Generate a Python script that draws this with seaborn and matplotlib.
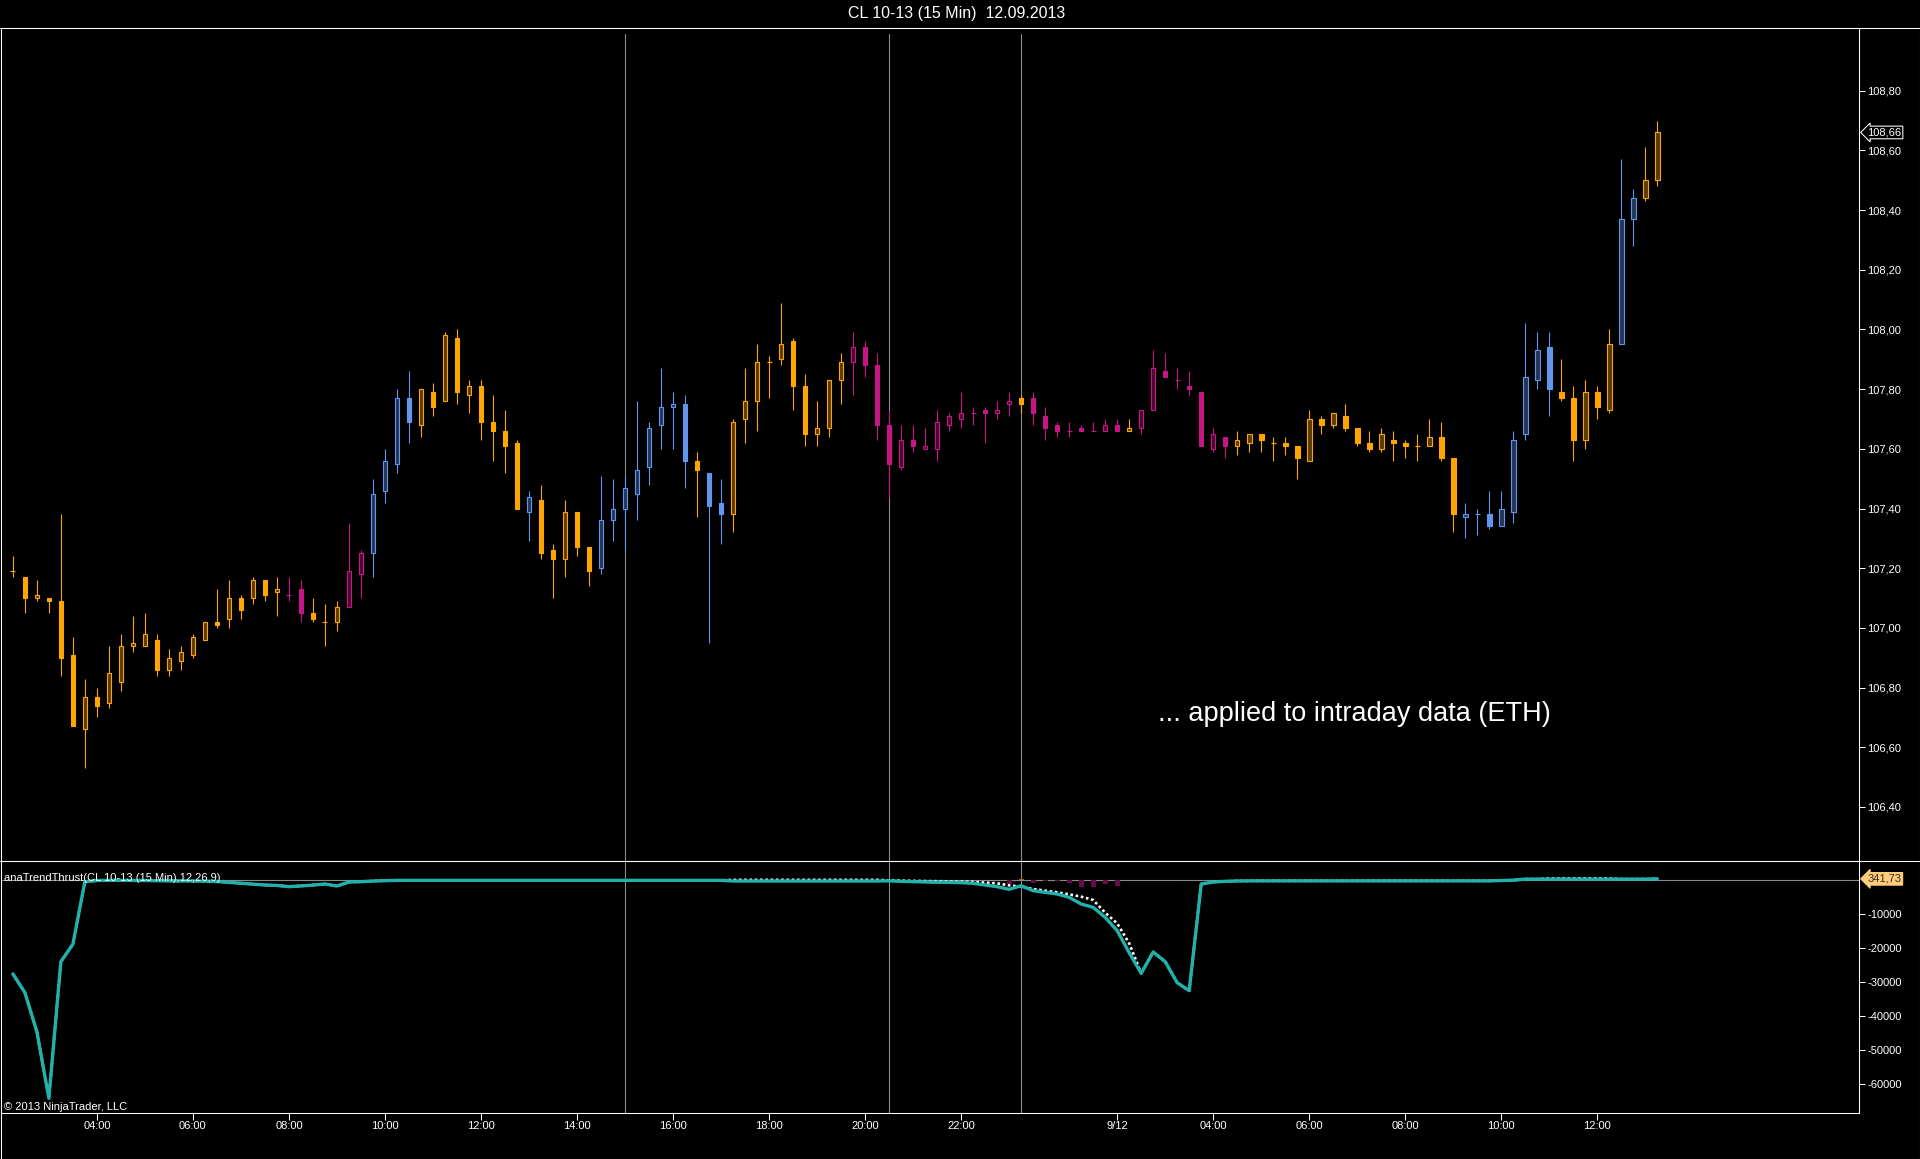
import numpy as np
import pandas as pd
import matplotlib
matplotlib.use("Agg")
import matplotlib.pyplot as plt
import matplotlib.transforms as mtransforms
from matplotlib.lines import Line2D
import seaborn as sns

# ---------------- data ----------------
title = "CL 10-13 (15 Min)  12.09.2013"
note = "... applied to intraday data (ETH)"
indicator_name = "anaTrendThrust(CL 10-13 (15 Min),12,26,9)"
copyright_txt = "\u00a9 2013 NinjaTrader, LLC"

opens = [107.19, 107.17, 107.10, 107.10, 107.09, 106.91, 106.66, 106.77, 106.75, 106.82,
         106.94, 106.94, 106.96, 106.86, 106.89, 106.91, 106.96, 107.02, 107.03, 107.10,
         107.10, 107.16, 107.12, 107.11, 107.13, 107.05, 107.02, 107.02, 107.07, 107.18,
         107.25, 107.46, 107.55, 107.77, 107.68, 107.79, 107.76, 107.97, 107.78, 107.81,
         107.69, 107.66, 107.62, 107.39, 107.43, 107.26, 107.23, 107.39, 107.27, 107.20,
         107.36, 107.40, 107.45, 107.54, 107.68, 107.74, 107.75, 107.56, 107.52, 107.42,
         107.38, 107.70, 107.76, 107.89, 107.90, 107.96, 107.81, 107.65, 107.67, 107.83,
         107.89, 107.94, 107.88, 107.68, 107.54, 107.63, 107.60, 107.60, 107.68, 107.70,
         107.72, 107.73, 107.72, 107.75, 107.77, 107.77, 107.71, 107.68, 107.66, 107.67,
         107.66, 107.66, 107.68, 107.66, 107.67, 107.73, 107.86, 107.83, 107.81, 107.79,
         107.60, 107.64, 107.61, 107.62, 107.65, 107.62, 107.62, 107.61, 107.56, 107.70,
         107.68, 107.71, 107.67, 107.62, 107.60, 107.63, 107.62, 107.61, 107.61, 107.64,
         107.57, 107.37, 107.38, 107.38, 107.34, 107.39, 107.65, 107.83, 107.94, 107.79,
         107.77, 107.63, 107.79, 107.73, 107.95, 108.37, 108.44, 108.50]
highs = [107.24, 107.17, 107.16, 107.10, 107.38, 106.97, 106.83, 106.80, 106.94, 106.98,
         107.04, 107.05, 106.98, 106.93, 106.94, 106.98, 107.02, 107.13, 107.16, 107.11,
         107.17, 107.16, 107.17, 107.17, 107.16, 107.10, 107.08, 107.09, 107.35, 107.26,
         107.50, 107.60, 107.80, 107.86, 107.80, 107.82, 107.99, 108.00, 107.83, 107.83,
         107.78, 107.73, 107.63, 107.46, 107.48, 107.28, 107.43, 107.39, 107.27, 107.51,
         107.50, 107.51, 107.76, 107.69, 107.87, 107.79, 107.78, 107.59, 107.52, 107.50,
         107.70, 107.87, 107.95, 107.91, 108.09, 107.97, 107.85, 107.76, 107.83, 107.92,
         107.99, 107.96, 107.92, 107.73, 107.68, 107.68, 107.67, 107.73, 107.72, 107.79,
         107.74, 107.74, 107.76, 107.79, 107.78, 107.79, 107.74, 107.69, 107.69, 107.68,
         107.69, 107.70, 107.70, 107.70, 107.73, 107.93, 107.92, 107.87, 107.86, 107.79,
         107.67, 107.64, 107.66, 107.65, 107.65, 107.64, 107.64, 107.61, 107.73, 107.71,
         107.72, 107.75, 107.67, 107.66, 107.67, 107.66, 107.63, 107.65, 107.70, 107.69,
         107.57, 107.42, 107.40, 107.46, 107.46, 107.66, 108.02, 107.99, 107.99, 107.90,
         107.81, 107.83, 107.81, 108.00, 108.57, 108.47, 108.61, 108.70]
lows = [107.17, 107.05, 107.09, 107.05, 106.84, 106.67, 106.53, 106.70, 106.73, 106.79,
        106.92, 106.94, 106.84, 106.84, 106.86, 106.90, 106.96, 107.00, 107.00, 107.03,
        107.08, 107.09, 107.04, 107.09, 107.02, 107.02, 106.94, 106.99, 107.07, 107.10,
        107.17, 107.42, 107.52, 107.62, 107.64, 107.71, 107.76, 107.75, 107.72, 107.63,
        107.56, 107.52, 107.40, 107.29, 107.23, 107.10, 107.17, 107.24, 107.14, 107.18,
        107.29, 107.26, 107.36, 107.48, 107.60, 107.60, 107.47, 107.37, 106.95, 107.28,
        107.32, 107.62, 107.66, 107.77, 107.88, 107.73, 107.61, 107.61, 107.64, 107.75,
        107.78, 107.84, 107.63, 107.44, 107.53, 107.59, 107.60, 107.56, 107.66, 107.67,
        107.68, 107.62, 107.70, 107.71, 107.72, 107.68, 107.63, 107.64, 107.64, 107.66,
        107.66, 107.66, 107.66, 107.66, 107.65, 107.73, 107.84, 107.80, 107.78, 107.61,
        107.59, 107.57, 107.58, 107.59, 107.59, 107.56, 107.58, 107.50, 107.56, 107.65,
        107.67, 107.66, 107.61, 107.59, 107.59, 107.56, 107.57, 107.56, 107.61, 107.56,
        107.32, 107.30, 107.31, 107.33, 107.34, 107.35, 107.63, 107.80, 107.71, 107.76,
        107.56, 107.60, 107.70, 107.72, 107.95, 108.28, 108.43, 108.48]
closes = [107.19, 107.10, 107.11, 107.09, 106.90, 106.67, 106.77, 106.74, 106.85, 106.94,
          106.95, 106.98, 106.86, 106.90, 106.92, 106.97, 107.02, 107.01, 107.10, 107.06,
          107.16, 107.11, 107.13, 107.11, 107.05, 107.03, 107.02, 107.07, 107.19, 107.25,
          107.45, 107.56, 107.77, 107.69, 107.80, 107.74, 107.98, 107.79, 107.81, 107.69,
          107.66, 107.61, 107.40, 107.44, 107.25, 107.23, 107.39, 107.27, 107.19, 107.36,
          107.40, 107.47, 107.53, 107.67, 107.74, 107.75, 107.56, 107.53, 107.41, 107.38,
          107.69, 107.76, 107.89, 107.89, 107.95, 107.81, 107.65, 107.67, 107.83, 107.89,
          107.94, 107.88, 107.68, 107.55, 107.63, 107.61, 107.61, 107.69, 107.71, 107.72,
          107.72, 107.72, 107.73, 107.76, 107.75, 107.72, 107.67, 107.66, 107.66, 107.66,
          107.66, 107.68, 107.66, 107.67, 107.73, 107.87, 107.84, 107.83, 107.80, 107.61,
          107.65, 107.61, 107.63, 107.65, 107.63, 107.62, 107.61, 107.57, 107.70, 107.68,
          107.72, 107.67, 107.62, 107.60, 107.65, 107.62, 107.61, 107.61, 107.64, 107.57,
          107.38, 107.38, 107.38, 107.34, 107.40, 107.63, 107.84, 107.93, 107.80, 107.77,
          107.63, 107.79, 107.74, 107.95, 108.37, 108.44, 108.50, 108.66]

# trend colour per bar: o = orange, b = blue, m = magenta
bar_colors = ("ooooooooooooooooooooooo" "mm" "ooo" "mm" "bbbb" "ooooooooo" "b" "ooooo"
              "bbbbbbbb" "o" "bb" "oooooooooo" "mmmmmmmmmmmmmm" "o" "mmmmmmmm" "o"
              "mmmmmmmm" "ooooooooooooooooooo" "bbbbbbbb" "ooooo" "bb" "oo")

thrust = [-27600, -33100, -44600, -64200, -24000, -18900, -500, -150, -100, -100,
          -150, -150, -200, -250, -250, -300, -350, -450, -700, -980,
          -1200, -1470, -1600, -1960, -1750, -1500, -1180, -1760, -600, -500,
          -300, -200, -100, -100, -100, -100, -100, -100, -100, -100,
          -100, -100, -100, -100, -100, -100, -100, -100, -100, -100,
          -100, -100, -100, -100, -100, -100, -100, -100, -100, -100,
          -300, -300, -300, -300, -300, -300, -300, -300, -300, -300,
          -300, -300, -300, -250, -390, -490, -590, -690, -690, -780,
          -980, -1470, -1960, -2750, -1670, -3140, -3630, -4120, -5100, -7060,
          -8040, -10980, -14900, -21370, -27450, -21170, -24020, -30200, -32550, -1180,
          -590, -390, -290, -250, -250, -250, -250, -250, -250, -250,
          -250, -250, -250, -250, -250, -250, -250, -250, -250, -250,
          -250, -250, -250, -250, -150, -50, 250, 250, 250, 250,
          250, 250, 250, 250, 250, 250, 250, 341.73]
signal = [-27600, -33100, -44600, -64200, -24000, -18900, -500, -150, -100, -100,
          -150, -150, -200, -250, -250, -300, -350, -450, -700, -980,
          -1200, -1470, -1600, -1960, -1750, -1500, -1180, -1760, -600, -500,
          -300, -200, -100, -100, -100, -100, -100, -100, -100, -100,
          -100, -100, -100, -100, -100, -100, -100, -100, -100, -100,
          -100, -100, -100, -100, -100, -100, -100, -100, -100, -100,
          50, 50, 50, 50, 50, 50, 50, 50, 50, 50,
          50, 50, 50, -100, -200, -250, -300, -350, -400, -500,
          -590, -780, -980, -1570, -1960, -2650, -3140, -3630, -4220, -4900,
          -5880, -9610, -12750, -18630, -27450, -21170, -24020, -30200, -32550, -1180,
          -590, -390, -290, -250, -250, -250, -250, -250, -250, -250,
          -250, -250, -250, -250, -250, -250, -250, -250, -250, -250,
          -250, -250, -250, -250, -150, -50, 250, 250, 450, 450,
          450, 450, 450, 450, 250, 250, 250, 341.73]
histogram = [0] * 83 + [-1180, 290, -780, -390, -390, -980, -1960, -1960, -1180, -1670] + [0] * 45

session_lines = [51, 73, 84]
time_tick_bars = [7, 15, 23, 31, 39, 47, 55, 63, 71, 79, 92, 100, 108, 116, 124, 132]
time_tick_labels = ["04:00", "06:00", "08:00", "10:00", "12:00", "14:00", "16:00", "18:00",
                    "20:00", "22:00", "9/12", "04:00", "06:00", "08:00", "10:00", "12:00"]
price_ticks = [106.40, 106.60, 106.80, 107.00, 107.20, 107.40, 107.60, 107.80,
               108.00, 108.20, 108.40, 108.60, 108.80]
indicator_ticks = [-60000, -50000, -40000, -30000, -20000, -10000]
last_price = 108.66
last_thrust = 341.73

# ---------------- style ----------------
sns.set_theme(style="dark", rc={
    "axes.facecolor": "black", "figure.facecolor": "black",
    "savefig.facecolor": "black", "axes.edgecolor": "white",
    "axes.grid": False, "text.color": "white", "patch.edgecolor": "none",
})
plt.rcParams["font.family"] = ["Liberation Sans", "DejaVu Sans"]

palette = {"o": "#FFA500", "b": "#6495ED", "m": "#C71585"}
dark = {k: tuple(0.36 * np.array(matplotlib.colors.to_rgb(v))) for k, v in palette.items()}
teal = "#20B2AA"
vline_col = "#8A8A8A"

W, H = 1920, 1159
fx = lambda px: px / W
fy = lambda py: 1 - py / H

fig = plt.figure(figsize=(W / 100, H / 100), dpi=100)
ax = fig.add_axes([fx(0.5), fy(860.7), fx(1859) - fx(0.5), fy(28) - fy(860.7)])
ax2 = fig.add_axes([fx(0.5), fy(1113), fx(1859) - fx(0.5), fy(860.7) - fy(1113)], sharex=ax)

df = pd.DataFrame({"bar": np.arange(len(opens)), "open": opens, "high": highs,
                   "low": lows, "close": closes, "trend": list(bar_colors),
                   "thrust": thrust, "signal": signal, "hist": histogram})
x = df["bar"].to_numpy()
o = df["open"].to_numpy(); h = df["high"].to_numpy()
l = df["low"].to_numpy(); c = df["close"].to_numpy()
col = np.array([palette[k] for k in df["trend"]], dtype=object)
fcol = [dark[k] for k in df["trend"]]

# ---------------- price panel ----------------
for v in session_lines:
    ax.axvline(v, ymin=0, ymax=0.9928, color=vline_col, lw=0.8, zorder=1)

ax.vlines(x, l, h, colors=list(col), linewidth=0.8, zorder=2)
up = c > o + 1e-9
dn = c < o - 1e-9
dj = ~(up | dn)
bw = 0.38
ax.bar(x[up], (c - o)[up], bottom=o[up], width=bw,
       color=[fcol[i] for i in np.where(up)[0]], edgecolor=list(col[up]), linewidth=0.8, zorder=3)
ax.bar(x[dn], (o - c)[dn], bottom=c[dn], width=bw,
       color=list(col[dn]), edgecolor=list(col[dn]), linewidth=0.8, zorder=3)
ax.hlines(c[dj], x[dj] - 0.21, x[dj] + 0.21, colors=list(col[dj]), linewidth=0.8, zorder=3)

ax.set_ylim(106.220, 109.010)
ax.set_xlim(-1.03, 153.8)
ax.yaxis.tick_right()
ax.set_yticks(price_ticks)
ax.set_yticklabels([f"{v:.2f}".replace(".", ",") for v in price_ticks])
ax.tick_params(axis="y", colors="white", direction="out", length=4.3, width=0.75,
               pad=1.5, labelsize=8)
ax.tick_params(axis="x", bottom=False, labelbottom=False)
for s in ax.spines.values():
    s.set_color("white"); s.set_linewidth(0.75)

ax.text(95.4, 106.712, note, color="white", fontsize=19.5, ha="left", va="center", zorder=6)

bt = mtransforms.blended_transform_factory(ax.transAxes, ax.transData)
ax.text(1.0045, last_price, f"{last_price:.2f}".replace(".", ","), transform=bt,
        color="white", fontsize=8, ha="left", va="center", clip_on=False,
        bbox=dict(boxstyle="larrow,pad=0.12", fc="black", ec="white", lw=0.75))

# ---------------- indicator panel ----------------
for v in session_lines:
    ax2.axvline(v, color=vline_col, lw=0.8, zorder=1)
ax2.axhline(0, color=vline_col, lw=0.8, zorder=1)

hist_cols = ["#9A6A10" if v > 0 else "#6A0C48" for v in df["hist"]]
ax2.bar(x, df["hist"], width=0.4, color=hist_cols, edgecolor="none", linewidth=0, zorder=2)

sns.lineplot(data=df, x="bar", y="signal", ax=ax2, color="white", linewidth=1.9, zorder=3)
ax2.lines[-1].set_linestyle((0, (1, 1)))
ax2.lines[-1].set_dash_capstyle("butt")
sns.lineplot(data=df, x="bar", y="thrust", ax=ax2, color=teal, linewidth=2.4, zorder=4)

ax2.set_ylim(-68525, 5676)
ax2.set_xlabel(""); ax2.set_ylabel("")
ax.set_xlabel(""); ax.set_ylabel("")
ax2.yaxis.tick_right()
ax2.set_yticks(indicator_ticks)
ax2.set_yticklabels([str(v) for v in indicator_ticks])
ax2.tick_params(axis="y", colors="white", direction="out", length=4.3, width=0.75,
                pad=1.5, labelsize=8)
ax2.set_xticks(time_tick_bars)
ax2.set_xticklabels(time_tick_labels)
ax2.tick_params(axis="x", colors="white", direction="out", length=5, width=0.75,
                pad=1, labelsize=8, bottom=True, labelbottom=True)
for s in ax2.spines.values():
    s.set_color("white"); s.set_linewidth(0.75)

ax2.text(3 / 1858.5, 0.9314, indicator_name, transform=ax2.transAxes, color="white",
         fontsize=8, ha="left", va="center", zorder=6)
ax2.text(3 / 1858.5, 0.0238, copyright_txt, transform=ax2.transAxes, color="white",
         fontsize=8, ha="left", va="center", zorder=6)

bt2 = mtransforms.blended_transform_factory(ax2.transAxes, ax2.transData)
ax2.text(1.0045, last_thrust, f"{last_thrust:.2f}".replace(".", ","), transform=bt2,
         color="#3A2A10", fontsize=8, ha="left", va="center", clip_on=False,
         bbox=dict(boxstyle="larrow,pad=0.12", fc="#FFCC80", ec="#FFCC80", lw=0.75))

# ---------------- frame & title ----------------
for (x0, y0, x1, y1) in [(0, 28, W, 28), (0, 860.7, W, 860.7), (0.5, 28, 0.5, H),
                         (W - 0.5, 28, W - 0.5, H), (0, H - 0.5, W, H - 0.5)]:
    fig.add_artist(Line2D([fx(x0), fx(x1)], [fy(y0), fy(y1)], transform=fig.transFigure,
                          color="white", lw=0.75))
fig.text(fx(957), fy(13.5), title, color="white", fontsize=11.5, ha="center", va="center")

fig.savefig("out.png", dpi=100, facecolor="black")
